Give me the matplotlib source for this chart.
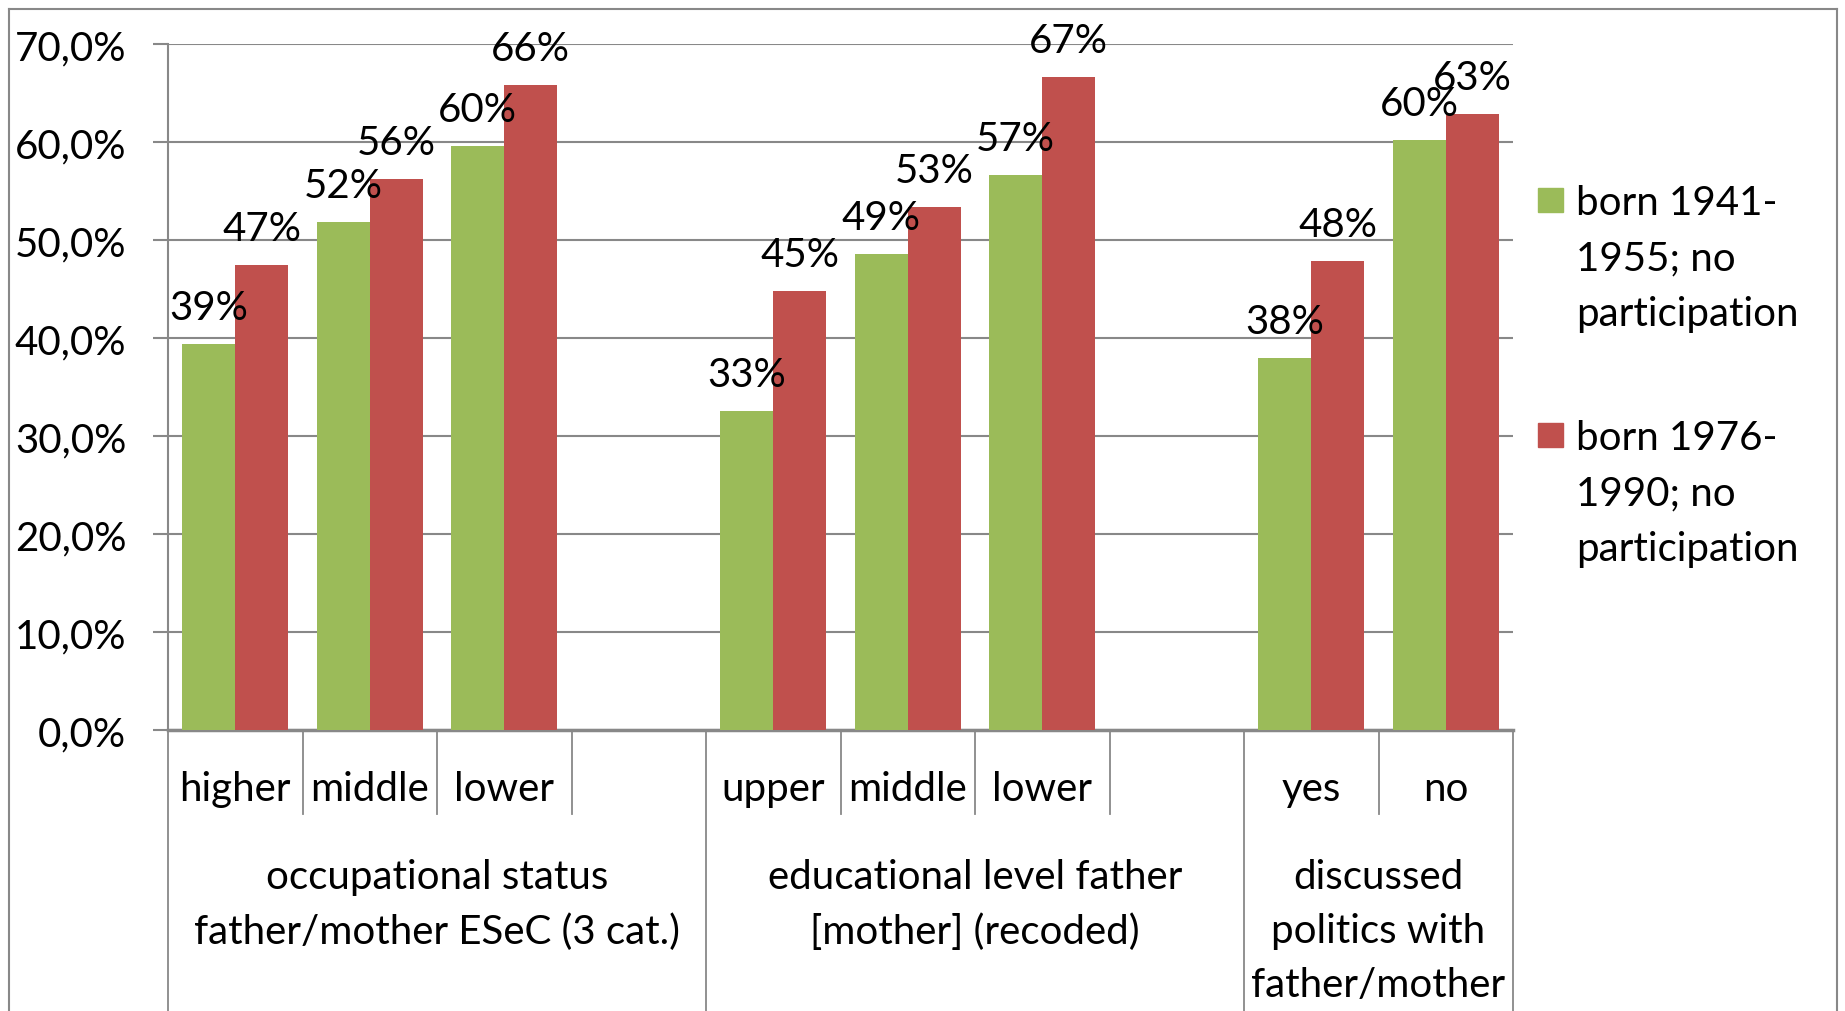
import numpy as np
import matplotlib
matplotlib.use("Agg")
import matplotlib.pyplot as plt
from matplotlib.transforms import blended_transform_factory
from matplotlib.lines import Line2D
from matplotlib.patches import Rectangle

# ---- data ----
sub_labels = ["higher", "middle", "lower", "", "upper", "middle", "lower", "", "yes", "no"]
group_labels = ["occupational status\nfather/mother ESeC (3 cat.)",
                "educational level father\n[mother] (recoded)",
                "discussed\npolitics with\nfather/mother"]
group_sizes = [4, 4, 2]
series_names = ["born 1941-\n1955; no\nparticipation",
                "born 1976-\n1990; no\nparticipation"]
green_vals = [39.4, 51.8, 59.6, np.nan, 32.6, 48.6, 56.6, np.nan, 38.0, 60.2]
red_vals = [47.4, 56.2, 65.8, np.nan, 44.8, 53.4, 66.6, np.nan, 47.9, 62.9]
yticks = [0, 10, 20, 30, 40, 50, 60, 70]
colors = ["#9BBB59", "#C0504D"]

plt.rcParams["font.family"] = ["Lato", "DejaVu Sans"]
FS = 29
GRID = "#888888"

W, H = 1845, 1012
fig = plt.figure(figsize=(W / 100, H / 100), dpi=100)
ax_left, ax_right, ax_top, ax_bot = 168, 1513, 45, 731
ax = fig.add_axes([ax_left / W, 1 - ax_bot / H, (ax_right - ax_left) / W, (ax_bot - ax_top) / H])

x = np.arange(len(sub_labels))
bw = 0.395
for vals, col, off in [(green_vals, colors[0], -bw / 2), (red_vals, colors[1], bw / 2)]:
    v = np.array(vals)
    ax.bar(x + off, v, width=bw, color=col, zorder=3)
    for xi, vi in zip(x, v):
        if np.isnan(vi):
            continue
        ax.annotate(f"{vi:.0f}%", (xi + off, vi), xytext=(0, 18), textcoords="offset points",
                    ha="center", va="baseline", fontsize=FS, zorder=5)

ax.set_xlim(-0.5, len(sub_labels) - 0.5)
ax.set_ylim(0, 70)
ax.set_yticks(yticks)
ax.set_yticklabels([f"{t:.1f}".replace(".", ",") + "%" for t in yticks], fontsize=FS)
ax.grid(axis="y", color=GRID, lw=1.5, zorder=0)
ax.tick_params(axis="y", length=11, width=1.5, color=GRID, pad=19)
ax.set_xticks([])
for s in ["top", "right"]:
    ax.spines[s].set_visible(False)
ax.spines["left"].set_color(GRID)
ax.spines["left"].set_linewidth(1.5)
ax.spines["bottom"].set_color(GRID)
ax.spines["bottom"].set_linewidth(2.5)

trans = blended_transform_factory(ax.transData, ax.transAxes)
ah = ax_bot - ax_top
def ay(px):
    return -(px - ax_bot) / ah

# sub labels
for xi, lab in zip(x, sub_labels):
    if lab:
        ax.text(xi, ay(790), lab, transform=trans, ha="center", va="center", fontsize=FS)

# separators
bounds = np.cumsum([0] + group_sizes) - 0.5
for b in np.arange(-0.5, len(sub_labels)):
    if b in bounds:
        y_end = ay(H + 5)
    else:
        y_end = ay(815)
    ax.add_line(Line2D([b, b], [0, y_end], transform=trans, color=GRID, lw=1.3, clip_on=False))

# group labels
centers = [(bounds[i] + bounds[i + 1]) / 2 for i in range(len(group_sizes))]
for c, lab in zip(centers, group_labels):
    ax.text(c, ay(859), lab, transform=trans, ha="center", va="top", fontsize=FS,
            linespacing=1.56)

# legend (manual)
for i, (name, col) in enumerate(zip(series_names, colors)):
    ytop = [189, 424][i]
    fig.patches.append(Rectangle((1538 / W, 1 - (ytop + 24) / H), 25 / W, 24 / H,
                                 transform=fig.transFigure, color=col))
    fig.text(1576 / W, 1 - (ytop - 4) / H, name, ha="left", va="top", fontsize=FS,
             linespacing=1.62)

# outer frame
fig.add_artist(Line2D([9 / W, 9 / W], [0, 1 - 10 / H], transform=fig.transFigure, color=GRID, lw=1.5))
fig.add_artist(Line2D([9 / W, 1837 / W], [1 - 10 / H, 1 - 10 / H], transform=fig.transFigure, color=GRID, lw=1.5))
fig.add_artist(Line2D([1837 / W, 1837 / W], [0, 1 - 10 / H], transform=fig.transFigure, color=GRID, lw=1.5))

fig.savefig("out.png", dpi=100)
